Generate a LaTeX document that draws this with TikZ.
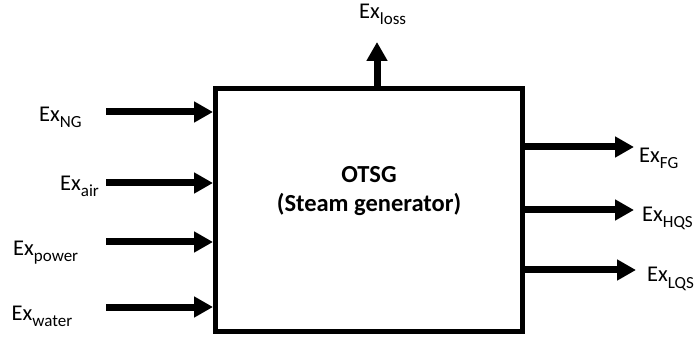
\documentclass[tikz,border=0pt]{standalone}
\usepackage{fontspec}
\setmainfont{Carlito}
\usetikzlibrary{arrows.meta}
\newcommand{\exsub}[1]{Ex\raisebox{-6pt}{\fontsize{17}{17}\selectfont #1}}
\tikzset{
  arr/.style={line width=7pt, -{Triangle[width=20pt,length=19pt]}},
  exlab/.style={inner sep=0pt, anchor=base west, font=\fontsize{22.5}{24}\selectfont},
  mainbox/.style={draw, line width=5pt, minimum width=306.5pt, minimum height=242.5pt, inner sep=0pt},
}
\begin{document}
\begin{tikzpicture}[x=1pt,y=-1pt]
\useasboundingbox (0,0) rectangle (699,339);
\node[mainbox] (otsg) at (368.75,209.75) {};
\node[font=\fontsize{24.5}{29}\selectfont\bfseries, align=center, inner sep=0pt] (title) at (369,191) {OTSG\\(Steam generator)};
% inputs
\coordinate (ng) at (106,112);
\coordinate (air) at (106,183);
\coordinate (pow) at (106,242);
\coordinate (wat) at (106,307);
\draw[arr] (ng) -- (ng -| otsg.west);
\draw[arr] (air) -- (air -| otsg.west);
\draw[arr] (pow) -- (pow -| otsg.west);
\draw[arr] (wat) -- (wat -| otsg.west);
\node[exlab] (lng) at (39,122) {\exsub{NG}};
\node[exlab] (lair) at (60,191) {\exsub{air}};
\node[exlab] (lpow) at (13,255) {\exsub{power}};
\node[exlab] (lwat) at (11.5,320) {\exsub{water}};
% loss
\coordinate (loss) at (377,42);
\draw[arr] (loss |- otsg.north) -- (loss);
\node[exlab] (lloss) at (359,19) {\exsub{loss}};
% outputs
\coordinate (fg) at (634,147);
\coordinate (hqs) at (634,210);
\coordinate (lqs) at (636,270);
\draw[arr] (fg -| otsg.east) -- (fg);
\draw[arr] (hqs -| otsg.east) -- (hqs);
\draw[arr] (lqs -| otsg.east) -- (lqs);
\node[exlab] (lfg) at (639,163) {\exsub{FG}};
\node[exlab] (lhqs) at (642,222) {\exsub{HQS}};
\node[exlab] (llqs) at (647,282) {\exsub{LQS}};
\end{tikzpicture}
\end{document}
